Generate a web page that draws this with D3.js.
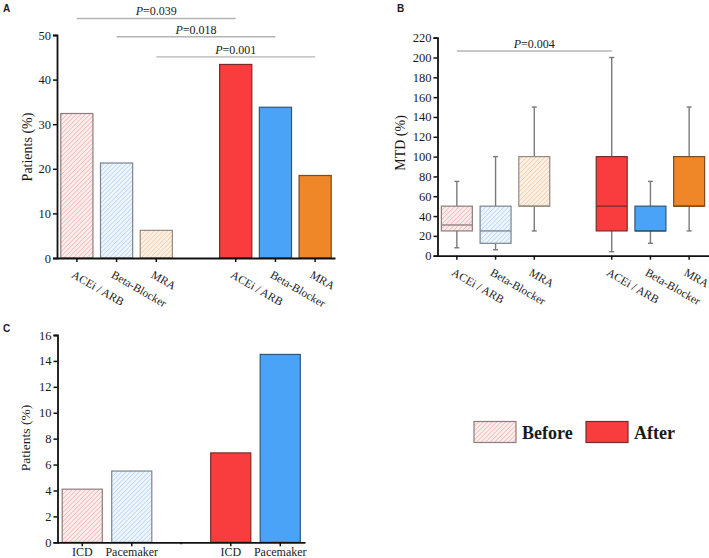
<!DOCTYPE html>
<html><head><meta charset="utf-8">
<script src="https://cdn.jsdelivr.net/npm/d3@7"></script>
<style>
body{margin:0;background:#fff;}
svg{display:block;}
text{font-family:"Liberation Serif","Times New Roman",serif;fill:#1a1a1a;}
.plabel{font-family:"Liberation Sans",Arial,sans-serif;font-weight:bold;font-size:10px;}
</style></head>
<body>
<svg id="chart" width="709" height="558"></svg>
<script>
// ---------- DATA ----------
const drugCats = ["ACEi / ARB", "Beta-Blocker", "MRA"];
const patientsBefore = [32.4, 21.3, 6.2];
const patientsAfter = [43.4, 33.8, 18.5];
const ticksA = [0, 10, 20, 30, 40, 50];
const pairsA = [[0, 0], [1, 1], [2, 2]];            // before index -> after index
const pLabelsA = ["0.039", "0.018", "0.001"];

// box stats: [min, q1, median, q3, max]
const mtdBefore = [[8, 25, 31, 50, 75], [6, 12.5, 25, 50, 100], [25, 50, 50, 100, 150]];
const mtdAfter = [[4, 25, 50, 100, 200], [12.5, 25, 25, 50, 75], [25, 50, 50, 100, 150]];
const ticksB = [0, 20, 40, 60, 80, 100, 120, 140, 160, 180, 200, 220];
const pLabelsB = ["0.004"];

const deviceCats = ["ICD", "Pacemaker"];
const devicesBefore = [4.1, 5.5];
const devicesAfter = [6.9, 14.5];
const ticksC = [0, 2, 4, 6, 8, 10, 12, 14, 16];

const legendLabels = ["Before", "After"];

// ---------- STYLE ----------
const SERIF = '"Liberation Serif","Times New Roman",serif';
const afterColors = ["#f93d3f", "#4ba3f7", "#ef8729"];
const afterStroke = ["#7a2a2a", "#2f5878", "#7a4a20"];
const hatchBg = ["#fdeeee", "#eef5fd", "#fdf1e6"];
const hatchLine = ["#f2a9a9", "#acd0f2", "#efc59e"];
const beforeStroke = ["#8c7c7c", "#7c8490", "#958a80"];

const svg = d3.select("#chart");
const defs = svg.append("defs");
hatchBg.forEach((bg, i) => {
  const p = defs.append("pattern").attr("id", "hatch" + i)
    .attr("patternUnits", "userSpaceOnUse").attr("width", 3.2).attr("height", 3.2)
    .attr("patternTransform", "rotate(45)");
  p.append("rect").attr("width", 3.2).attr("height", 3.2).attr("fill", bg);
  p.append("line").attr("x1", 0).attr("y1", 0).attr("x2", 0).attr("y2", 3.2)
    .attr("stroke", hatchLine[i]).attr("stroke-width", 1.3);
});

function slots(n) { // n categories -> before, gap, after
  const s = [];
  for (let i = 0; i < n; i++) s.push("b" + i);
  s.push("gap");
  for (let i = 0; i < n; i++) s.push("a" + i);
  return s;
}

function yAxis(g, y, ticks) {
  const ax = g.append("g").attr("transform", `translate(${y.x0},0)`)
    .call(d3.axisLeft(y).tickValues(ticks).tickSize(4).tickPadding(2).tickFormat(d3.format("d")));
  ax.attr("font-family", SERIF);
  ax.select(".domain").attr("stroke", "#111").attr("stroke-width", 1.8);
  ax.selectAll(".tick line").attr("stroke", "#111").attr("stroke-width", 1.5);
  ax.selectAll("text").attr("font-size", 12.5).attr("fill", "#1a1a1a");
  return ax;
}

function xAxis(g, x, yPos, tickVals, labels, rotated) {
  const ax = g.append("g").attr("transform", `translate(0,${yPos})`)
    .call(d3.axisBottom(x).tickValues(tickVals).tickSize(4).tickSizeOuter(0)
      .tickFormat(d => labels[d] || ""));
  ax.attr("font-family", SERIF);
  ax.select(".domain").attr("stroke", "#111").attr("stroke-width", 1.8);
  ax.selectAll(".tick line").attr("stroke", "#111").attr("stroke-width", 1.5);
  const t = ax.selectAll("text").attr("font-size", rotated ? 11.5 : 12).attr("fill", "#1a1a1a");
  if (rotated) {
    t.attr("text-anchor", "start").attr("x", 0).attr("y", 0).attr("dy", 0)
      .attr("transform", "translate(-6,19) rotate(30)");
  }
  return ax;
}

function yTitle(x, yc, txt, size) {
  svg.append("text").attr("transform", `translate(${x},${yc}) rotate(-90)`)
    .attr("text-anchor", "middle").attr("font-size", size).text(txt);
}

function pBracket(g, x1, x2, yLine, label) {
  g.append("line").attr("x1", x1).attr("x2", x2).attr("y1", yLine).attr("y2", yLine)
    .attr("stroke", "#b4b4b4").attr("stroke-width", 1.4);
  const t = g.append("text").attr("x", (x1 + x2) / 2).attr("y", yLine - 3)
    .attr("text-anchor", "middle").attr("font-size", 12);
  t.append("tspan").attr("font-style", "italic").text("P");
  t.append("tspan").text("=" + label);
}

// ---------- PANEL A ----------
{
  const g = svg.append("g");
  const s = slots(drugCats.length);
  const x = d3.scaleBand().domain(s).range([57, 335]).paddingInner(0.19).paddingOuter(0.095);
  const y = d3.scaleLinear().domain([0, 50]).range([258, 35]);
  y.x0 = 57;
  const bw = x.bandwidth();
  const rows = [
    ...patientsBefore.map((v, i) => ({ k: "b" + i, v, fill: `url(#hatch${i})`, stroke: beforeStroke[i] })),
    ...patientsAfter.map((v, i) => ({ k: "a" + i, v, fill: afterColors[i], stroke: afterStroke[i] }))
  ];
  g.selectAll("rect.bar").data(rows).join("rect").attr("class", "bar")
    .attr("x", d => x(d.k)).attr("width", bw)
    .attr("y", d => y(d.v)).attr("height", d => y(0) - y(d.v))
    .attr("fill", d => d.fill).attr("stroke", d => d.stroke).attr("stroke-width", 1.2);
  const labels = {};
  drugCats.forEach((c, i) => { labels["b" + i] = c; labels["a" + i] = c; });
  xAxis(g, x, 258, s.filter(d => d !== "gap"), labels, true);
  yAxis(g, y, ticksA);
  yTitle(32, 147, "Patients (%)", 14);
  const levels = [53.7, 49.6, 45.1];
  pairsA.forEach((p, i) => {
    pBracket(g, x("b" + p[0]) + bw / 2, x("a" + p[1]) + bw / 2, y(levels[i]), pLabelsA[i]);
  });
  svg.append("text").attr("class", "plabel").attr("x", 3).attr("y", 12).text("A");
}

// ---------- PANEL B ----------
{
  const g = svg.append("g");
  const s = slots(drugCats.length);
  const x = d3.scaleBand().domain(s).range([437.5, 708.5]).paddingInner(0.2).paddingOuter(0.1);
  const y = d3.scaleLinear().domain([0, 220]).range([255.7, 37.7]);
  y.x0 = 437.5;
  const bw = x.bandwidth();
  const rows = [
    ...mtdBefore.map((v, i) => ({ k: "b" + i, v, fill: `url(#hatch${i})`, stroke: beforeStroke[i] })),
    ...mtdAfter.map((v, i) => ({ k: "a" + i, v, fill: afterColors[i], stroke: afterStroke[i] }))
  ];
  const bx = g.selectAll("g.box").data(rows).join("g").attr("class", "box");
  const cx = d => x(d.k) + bw / 2;
  bx.append("line").attr("x1", cx).attr("x2", cx).attr("y1", d => y(d.v[0])).attr("y2", d => y(d.v[4]))
    .attr("stroke", "#7a7a7a").attr("stroke-width", 1.4);
  [0, 4].forEach(j => {
    bx.append("line").attr("x1", d => cx(d) - 2.5).attr("x2", d => cx(d) + 2.5)
      .attr("y1", d => y(d.v[j])).attr("y2", d => y(d.v[j]))
      .attr("stroke", "#7a7a7a").attr("stroke-width", 1.4);
  });
  bx.append("rect").attr("x", d => x(d.k)).attr("width", bw)
    .attr("y", d => y(d.v[3])).attr("height", d => y(d.v[1]) - y(d.v[3]))
    .attr("fill", d => d.fill).attr("stroke", d => d.stroke).attr("stroke-width", 1.2);
  bx.append("line").attr("x1", d => x(d.k)).attr("x2", d => x(d.k) + bw)
    .attr("y1", d => y(d.v[2])).attr("y2", d => y(d.v[2]))
    .attr("stroke", d => d.stroke).attr("stroke-width", 1.3);
  const labels = {};
  drugCats.forEach((c, i) => { labels["b" + i] = c; labels["a" + i] = c; });
  xAxis(g, x, 255.7, s.filter(d => d !== "gap"), labels, true);
  yAxis(g, y, ticksB);
  yTitle(405, 143, "MTD (%)", 14);
  pBracket(g, x("b0") + bw / 2, x("a0") + bw / 2, y(206.6), pLabelsB[0]);
  svg.append("text").attr("class", "plabel").attr("x", 397).attr("y", 12).text("B");
}

// ---------- PANEL C ----------
{
  const g = svg.append("g");
  const s = slots(deviceCats.length);
  const x = d3.scaleBand().domain(s).range([57.5, 305]).paddingInner(0.19).paddingOuter(0.095);
  const y = d3.scaleLinear().domain([0, 16]).range([542.3, 335]);
  y.x0 = 57.5;
  const bw = x.bandwidth();
  const rows = [
    ...devicesBefore.map((v, i) => ({ k: "b" + i, v, fill: `url(#hatch${i})`, stroke: beforeStroke[i] })),
    ...devicesAfter.map((v, i) => ({ k: "a" + i, v, fill: afterColors[i], stroke: afterStroke[i] }))
  ];
  g.selectAll("rect.bar").data(rows).join("rect").attr("class", "bar")
    .attr("x", d => x(d.k)).attr("width", bw)
    .attr("y", d => y(d.v)).attr("height", d => y(0) - y(d.v))
    .attr("fill", d => d.fill).attr("stroke", d => d.stroke).attr("stroke-width", 1.2);
  const labels = {};
  deviceCats.forEach((c, i) => { labels["b" + i] = c; labels["a" + i] = c; });
  const ax = xAxis(g, x, 542.3, s, labels, false);
  ax.selectAll(".tick").filter(d => d === "gap").select("line").attr("y2", 2);
  ax.selectAll("text").attr("y", 5).attr("dy", "0.71em");
  yAxis(g, y, ticksC);
  yTitle(30, 438, "Patients (%)", 13.5);
  svg.append("text").attr("class", "plabel").attr("x", 3).attr("y", 332).text("C");
}

// ---------- LEGEND ----------
{
  const g = svg.append("g");
  const lx = d3.scaleOrdinal().domain(legendLabels).range([474, 586]);
  const items = g.selectAll("g").data(legendLabels).join("g")
    .attr("transform", d => `translate(${lx(d)},421.5)`);
  items.append("rect").attr("width", 42).attr("height", 21)
    .attr("fill", (d, i) => i === 0 ? "url(#hatch0)" : afterColors[0])
    .attr("stroke", (d, i) => i === 0 ? beforeStroke[0] : afterStroke[0]).attr("stroke-width", 1.2);
  items.append("text").attr("x", 48).attr("y", 17).attr("font-size", 18).attr("font-weight", "bold")
    .text(d => d);
}
</script>
</body></html>
